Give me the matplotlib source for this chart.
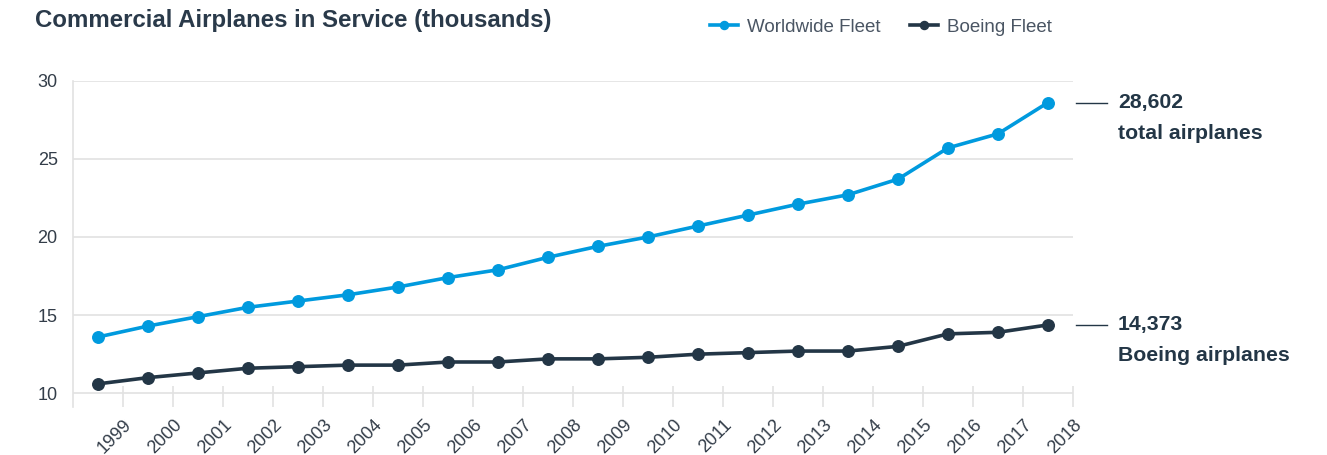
import matplotlib.pyplot as plt

plt.rcParams['font.family'] = ['Liberation Sans', 'DejaVu Sans']

# data (thousands of airplanes)
years = ['1999', '2000', '2001', '2002', '2003', '2004', '2005', '2006', '2007', '2008',
         '2009', '2010', '2011', '2012', '2013', '2014', '2015', '2016', '2017', '2018']
worldwide = [13.6, 14.3, 14.9, 15.5, 15.9, 16.3, 16.8, 17.4, 17.9, 18.7,
             19.4, 20.0, 20.7, 21.4, 22.1, 22.7, 23.7, 25.7, 26.6, 28.602]
boeing = [10.6, 11.0, 11.3, 11.6, 11.7, 11.8, 11.8, 12.0, 12.0, 12.2,
          12.2, 12.3, 12.5, 12.6, 12.7, 12.7, 13.0, 13.8, 13.9, 14.373]

blue = '#009ade'
navy = '#233646'
grid = '#e2e2e2'
txt = '#333d49'

fig = plt.figure(figsize=(13.27, 4.55), dpi=100)
ax = fig.add_axes([73/1327, 1 - 407/455, 1000/1327, (407 - 80.7)/455])

x = list(range(len(years)))
ax.plot(x, worldwide, color=blue, lw=2.6, marker='o', ms=8.3, label='Worldwide Fleet', zorder=3)
ax.plot(x, boeing, color=navy, lw=2.6, marker='o', ms=8.3, label='Boeing Fleet', zorder=3)

ax.set_xlim(-0.5, 19.5)
ax.set_ylim(9.12, 30)
ax.set_yticks([10, 15, 20, 25, 30])
ax.set_yticklabels(['10', '15', '20', '25', '30'])
ax.yaxis.grid(True, color=grid, lw=1.2)
ax.set_axisbelow(True)
ax.set_xticks([i + 0.5 for i in x])
ax.set_xticklabels(years, rotation=45, ha='right', rotation_mode='anchor')

for s in ['top', 'right', 'bottom']:
    ax.spines[s].set_visible(False)
ax.spines['left'].set_color(grid)
ax.spines['left'].set_linewidth(1.2)

ax.tick_params(axis='x', direction='in', length=15, width=1.2, color=grid,
               labelsize=13, labelcolor=txt, pad=7)
ax.tick_params(axis='y', length=0, labelsize=13, labelcolor=txt, pad=11)

# right-hand notes
for val, line1, line2 in [(worldwide[-1], '28,602', 'total airplanes'),
                          (boeing[-1], '14,373', 'Boeing airplanes')]:
    ax.plot([19.56, 20.18], [val, val], color=navy, lw=1, clip_on=False)
    ax.annotate(line1, xy=(20.4, val), va='center', ha='left', fontsize=15.3,
                fontweight='bold', color=navy, annotation_clip=False)
    ax.annotate(line2, xy=(20.4, val), xytext=(0, -22), textcoords='offset points',
                va='center', ha='left', fontsize=15.3, fontweight='bold', color=navy,
                annotation_clip=False)

fig.text(35/1327, 1 - 21/455, 'Commercial Airplanes in Service (thousands)', fontsize=17.3,
         fontweight='bold', color='#2a3a4a', va='center', ha='left')

fig.legend(loc='center left', bbox_to_anchor=(693/1327, 1 - 27/455), ncol=2, frameon=False,
           fontsize=13.5, labelcolor='#4a5563', handlelength=1.5, handletextpad=0.5,
           columnspacing=1.55, markerscale=0.7)

fig.savefig('out.png', dpi=100)
